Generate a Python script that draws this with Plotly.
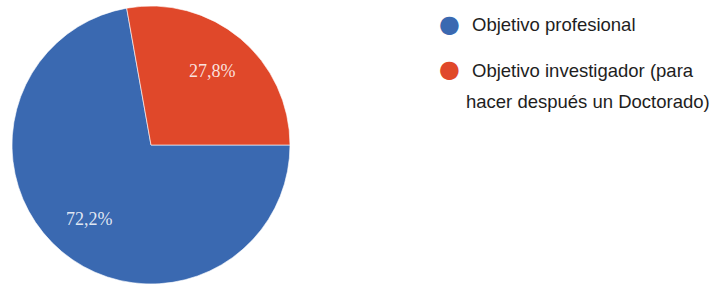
import math
import textwrap
import plotly.graph_objects as go

labels = ["Objetivo profesional", "Objetivo investigador (para hacer después un Doctorado)"]
values = [72.2, 27.8]
colors = ["#3a69b1", "#e0482a"]

W, H = 716, 287
CX, CY, R = 151, 145, 139  # pie centre / radius in pixels (layout)

fig = go.Figure()
fig.add_trace(go.Pie(
    labels=labels,
    values=values,
    sort=False,
    direction="clockwise",
    rotation=90,
    marker=dict(colors=colors, line=dict(color="rgba(255,255,255,0.6)", width=1)),
    textinfo="none",
    showlegend=False,
    hoverinfo="label+percent",
    domain=dict(x=[(CX - R) / W, (CX + R) / W], y=[(H - CY - R) / H, (H - CY + R) / H]),
))

annotations = []

# Percent labels placed at each slice's mid-angle (derived from values)
total = sum(values)
start = 90.0  # degrees clockwise from 12 o'clock
for v in values:
    frac = v / total
    mid = start + frac * 360 / 2
    a = math.radians(mid)
    px = CX + 0.69 * R * math.sin(a)
    py = CY - 0.69 * R * math.cos(a)
    annotations.append(dict(
        x=px / W, y=1 - py / H, xref="paper", yref="paper",
        text=f"{frac * 100:.1f}%".replace(".", ","), showarrow=False,
        xanchor="center", yanchor="middle",
        font=dict(family="Liberation Serif", size=18, color="rgba(255,255,255,0.85)"),
    ))
    start += frac * 360

# Manual legend (circle symbols, wrapped text)
dot_x = 449
text_x = 470
y = 24
for lab, col in zip(labels, colors):
    lines = textwrap.wrap(lab, 27)
    annotations.append(dict(
        x=dot_x / W, y=1 - y / H, xref="paper", yref="paper",
        text="●", showarrow=False, xanchor="center", yanchor="middle",
        font=dict(size=24, color=col, family="DejaVu Sans"),
    ))
    for i, ln in enumerate(lines):
        annotations.append(dict(
            x=(text_x if i == 0 else text_x - 6) / W, y=1 - (y + 1 + i * 31) / H,
            xref="paper", yref="paper",
            text=ln, showarrow=False, xanchor="left", yanchor="middle",
            font=dict(size=18.5, color="#1e1e1e", family="Liberation Sans"),
        ))
    y += 45

fig.update_layout(
    width=W, height=H,
    margin=dict(l=0, r=0, t=0, b=0),
    paper_bgcolor="white",
    plot_bgcolor="white",
    separators=",.",
    annotations=annotations,
)

fig.write_html("out.html", config={"displayModeBar": False},
               post_script="document.body.style.margin='0';")
